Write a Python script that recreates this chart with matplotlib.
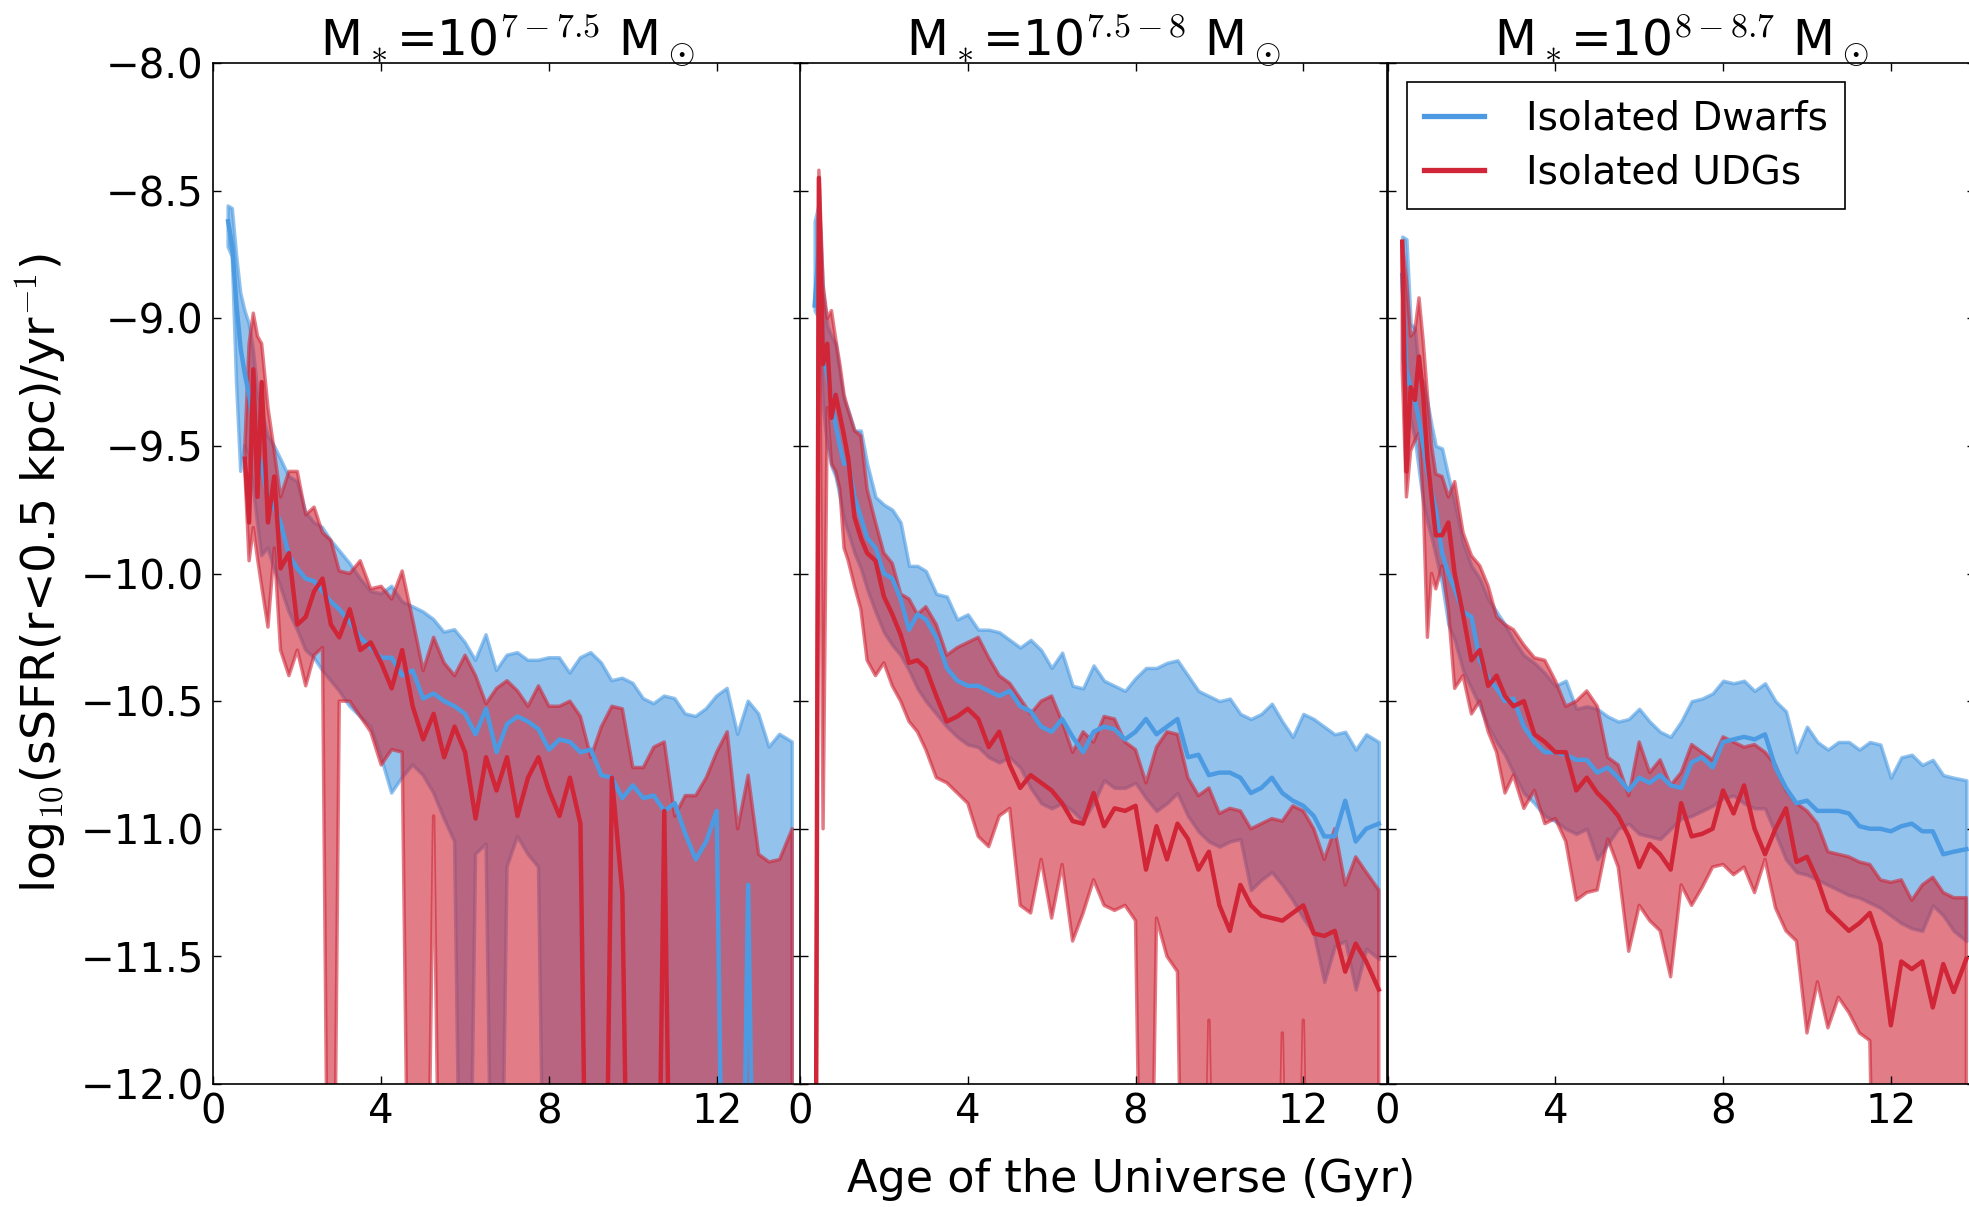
import numpy as np
import matplotlib
matplotlib.use("Agg")
import matplotlib.pyplot as plt

plt.rcParams["font.family"] = "DejaVu Sans"
plt.rcParams["mathtext.fontset"] = "cm"

nan = np.nan
LOW = -14.0  # zero star formation: drops off the bottom of the axes

# age of the universe (Gyr)
t = [0.35, 0.45, 0.55, 0.65, 0.75, 0.85, 0.95, 1.05, 1.15, 1.3,
     1.45, 1.6, 1.8, 2.0, 2.2, 2.4, 2.6, 2.8, 3.0, 3.25,
     3.5, 3.75, 4.0, 4.25, 4.5, 4.75, 5.0, 5.25, 5.5, 5.75,
     6.0, 6.25, 6.5, 6.75, 7.0, 7.25, 7.5, 7.75, 8.0, 8.25,
     8.5, 8.75, 9.0, 9.25, 9.5, 9.75, 10.0, 10.25, 10.5, 10.75,
     11.0, 11.25, 11.5, 11.75, 12.0, 12.25, 12.5, 12.75, 13.0, 13.25,
     13.5, 13.8]

titles = [r"M$_*$=10$^{7-7.5}$ M$_\odot$",
          r"M$_*$=10$^{7.5-8}$ M$_\odot$",
          r"M$_*$=10$^{8-8.7}$ M$_\odot$"]

# ---- panel 1: 10^7 - 10^7.5 ----
dw1_hi = [-8.56, -8.57, -8.75, -8.90, -8.97, -9.02, -9.12, -9.28, -9.36, -9.46,
          -9.50, -9.55, -9.62, -9.64, -9.76, -9.80, -9.82, -9.87, -9.91, -9.96,
          -10.02, -10.07, -10.08, -10.05, -10.11, -10.13, -10.15, -10.18, -10.23, -10.22,
          -10.27, -10.34, -10.24, -10.38, -10.32, -10.31, -10.34, -10.34, -10.33, -10.33,
          -10.39, -10.33, -10.31, -10.35, -10.42, -10.41, -10.43, -10.49, -10.51, -10.48,
          -10.49, -10.55, -10.56, -10.53, -10.48, -10.45, -10.63, -10.50, -10.55, -10.68,
          -10.63, -10.66]
dw1_md = [-8.62, -8.72, -8.95, -9.12, -9.22, -9.30, -9.40, -9.52, -9.58, -9.70,
          -9.74, -9.80, -9.93, -9.98, -10.02, -10.03, -10.07, -10.11, -10.14, -10.19,
          -10.25, -10.29, -10.33, -10.33, -10.40, -10.38, -10.49, -10.47, -10.50, -10.52,
          -10.55, -10.63, -10.53, -10.70, -10.59, -10.56, -10.58, -10.61, -10.69, -10.65,
          -10.66, -10.70, -10.69, -10.79, -10.80, -10.88, -10.83, -10.88, -10.87, -10.93,
          -10.90, -11.02, -11.12, -11.05, -10.93, LOW, LOW, -11.22, LOW, LOW,
          LOW, LOW]
dw1_lo = [-8.72, -8.76, -9.25, -9.60, -9.50, -9.55, -9.66, -9.80, -9.93, -9.90,
          -9.98, -10.05, -10.15, -10.22, -10.30, -10.33, -10.38, -10.42, -10.46, -10.52,
          -10.56, -10.60, -10.72, -10.86, -10.80, -10.75, -10.79, -10.86, -10.96, -11.05,
          LOW, -11.10, -11.06, LOW, -11.15, -11.03, -11.10, -11.15, LOW, LOW,
          LOW, LOW, LOW, LOW, LOW, LOW, LOW, LOW, LOW, LOW,
          LOW, LOW, LOW, LOW, LOW, LOW, LOW, LOW, LOW, LOW,
          LOW, LOW]
udg1_hi = [nan, nan, nan, nan, -9.50, -9.10, -8.98, -9.07, -9.10, -9.35,
           -9.52, -9.70, -9.60, -9.60, -9.77, -9.74, -9.84, -9.87, -9.99, -10.00,
           -9.95, -10.06, -10.05, -10.10, -9.99, -10.18, -10.38, -10.25, -10.35, -10.40,
           -10.32, -10.40, -10.51, -10.45, -10.42, -10.46, -10.52, -10.44, -10.52, -10.52,
           -10.50, -10.56, -10.72, -10.60, -10.52, -10.53, -10.76, -10.76, -10.68, -10.66,
           -10.95, -10.87, -10.87, -10.80, -10.70, -10.62, -11.00, -10.79, -11.10, -11.13,
           -11.12, -11.00]
udg1_md = [nan, nan, nan, nan, -9.55, -9.80, -9.20, -9.70, -9.25, -9.80,
           -9.62, -9.98, -9.92, -10.20, -10.17, -10.07, -10.02, -10.20, -10.25, -10.14,
           -10.30, -10.27, -10.35, -10.45, -10.30, -10.52, -10.65, -10.55, -10.72, -10.60,
           -10.70, -10.96, -10.72, -10.85, -10.72, -10.95, -10.80, -10.72, -10.85, -10.95,
           -10.80, -10.98, LOW, LOW, -10.80, -11.25, LOW, LOW, LOW, -10.93,
           LOW, LOW, LOW, LOW, LOW, LOW, LOW, LOW, LOW, LOW,
           LOW, LOW]
udg1_lo = [nan, nan, nan, nan, -9.60, -9.95, -9.82, -9.94, -10.05, -10.21,
           -9.90, -10.30, -10.40, -10.30, -10.44, -10.32, -10.29, LOW, -10.50, -10.50,
           -10.56, -10.62, -10.75, -10.69, -10.70, LOW, LOW, -10.95, LOW, LOW,
           LOW, LOW, LOW, LOW, LOW, LOW, LOW, LOW, LOW, LOW,
           LOW, LOW, LOW, LOW, LOW, LOW, LOW, LOW, LOW, LOW,
           LOW, LOW, LOW, LOW, LOW, LOW, LOW, LOW, LOW, LOW,
           LOW, LOW]

# ---- panel 2: 10^7.5 - 10^8 ----
dw2_hi = [-8.62, -8.55, -8.90, -9.03, -9.07, -9.10, -9.22, -9.32, -9.36, -9.44,
          -9.44, -9.57, -9.70, -9.73, -9.75, -9.80, -9.97, -9.97, -9.99, -10.08,
          -10.09, -10.18, -10.16, -10.22, -10.22, -10.23, -10.26, -10.29, -10.26, -10.30,
          -10.37, -10.31, -10.44, -10.45, -10.36, -10.42, -10.44, -10.46, -10.41, -10.37,
          -10.37, -10.35, -10.34, -10.40, -10.46, -10.48, -10.50, -10.49, -10.55, -10.57,
          -10.55, -10.51, -10.58, -10.64, -10.55, -10.57, -10.60, -10.63, -10.62, -10.69,
          -10.63, -10.66]
dw2_md = [-8.95, -8.72, -9.12, -9.22, -9.32, -9.42, -9.50, -9.57, -9.57, -9.70,
          -9.78, -9.86, -9.90, -10.00, -10.02, -10.10, -10.22, -10.16, -10.18, -10.25,
          -10.37, -10.42, -10.44, -10.44, -10.46, -10.48, -10.46, -10.52, -10.54, -10.60,
          -10.62, -10.57, -10.64, -10.70, -10.62, -10.60, -10.61, -10.65, -10.62, -10.57,
          -10.63, -10.60, -10.57, -10.72, -10.71, -10.79, -10.78, -10.78, -10.80, -10.86,
          -10.84, -10.80, -10.86, -10.89, -10.91, -10.95, -11.03, -11.03, -10.89, -11.05,
          -11.00, -10.98]
dw2_lo = [-8.97, -9.00, -9.35, -9.50, -9.58, -9.62, -9.70, -9.79, -9.84, -9.92,
          -9.98, -10.06, -10.15, -10.23, -10.28, -10.32, -10.38, -10.45, -10.50, -10.55,
          -10.60, -10.64, -10.67, -10.68, -10.72, -10.74, -10.72, -10.76, -10.84, -10.90,
          -10.92, -10.90, -10.93, -10.97, -10.90, -10.81, -10.84, -10.84, -10.82, -10.88,
          -10.93, -10.90, -10.86, -10.95, -11.01, -11.05, -11.07, -11.05, -11.04, -11.24,
          -11.20, -11.17, -11.22, -11.28, -11.35, -11.41, -11.60, -11.46, -11.44, -11.63,
          -11.47, -11.51]
udg2_hi = [LOW, -8.42, -8.87, -9.00, -8.97, -9.08, -9.18, -9.30, -9.36, -9.44,
           -9.46, -9.67, -9.80, -9.92, -9.96, -10.08, -10.10, -10.16, -10.13, -10.20,
           -10.32, -10.29, -10.27, -10.25, -10.33, -10.40, -10.43, -10.49, -10.55, -10.50,
           -10.48, -10.58, -10.70, -10.62, -10.66, -10.56, -10.57, -10.66, -10.69, -10.82,
           -10.68, -10.62, -10.63, -10.80, -10.87, -10.84, -10.94, -10.92, -10.93, -11.00,
           -10.98, -10.96, -10.97, -10.91, -10.93, -11.00, -11.12, -11.00, -11.22, -11.11,
           -11.17, -11.24]
udg2_md = [LOW, -8.45, -9.18, -9.10, -9.39, -9.30, -9.38, -9.46, -9.55, -9.78,
           -9.86, -9.92, -9.95, -10.09, -10.16, -10.24, -10.35, -10.34, -10.37, -10.48,
           -10.58, -10.56, -10.53, -10.57, -10.68, -10.62, -10.75, -10.84, -10.79, -10.82,
           -10.85, -10.90, -10.97, -10.98, -10.86, -10.99, -10.92, -10.93, -10.91, -11.16,
           -10.99, -11.12, -10.98, -11.04, -11.16, -11.09, -11.30, -11.40, -11.22, -11.30,
           -11.34, -11.35, -11.36, -11.33, -11.30, -11.41, -11.42, -11.40, -11.56, -11.45,
           -11.52, -11.63]
udg2_lo = [LOW, -8.55, -11.00, -9.35, -9.57, -9.60, -9.67, -9.90, -9.95, -10.05,
           -10.14, -10.34, -10.40, -10.35, -10.44, -10.50, -10.58, -10.62, -10.69, -10.80,
           -10.82, -10.86, -10.90, -11.03, -11.07, -10.95, -10.92, -11.30, -11.33, -11.12,
           -11.35, -11.14, -11.44, -11.33, -11.20, -11.30, -11.32, -11.30, -11.36, LOW,
           -11.35, -11.50, -11.56, LOW, LOW, -11.75, LOW, LOW, LOW, LOW,
           LOW, LOW, -11.80, LOW, -11.75, LOW, LOW, LOW, LOW, LOW,
           LOW, LOW]

# ---- panel 3: 10^8 - 10^8.7 ----
dw3_hi = [-8.68, -8.69, -9.02, -9.04, -9.22, -9.25, -9.33, -9.42, -9.50, -9.51,
          -9.62, -9.72, -9.88, -9.97, -10.02, -10.10, -10.15, -10.20, -10.26, -10.32,
          -10.35, -10.39, -10.44, -10.42, -10.53, -10.52, -10.53, -10.56, -10.58, -10.57,
          -10.53, -10.58, -10.62, -10.64, -10.58, -10.50, -10.49, -10.47, -10.42, -10.43,
          -10.42, -10.46, -10.43, -10.50, -10.54, -10.70, -10.60, -10.66, -10.69, -10.66,
          -10.66, -10.69, -10.66, -10.67, -10.80, -10.72, -10.71, -10.75, -10.73, -10.79,
          -10.80, -10.81]
dw3_md = [-8.83, -9.20, -9.28, -9.32, -9.40, -9.50, -9.60, -9.68, -9.75, -9.92,
          -10.00, -10.06, -10.15, -10.17, -10.34, -10.41, -10.45, -10.50, -10.49, -10.60,
          -10.66, -10.70, -10.70, -10.71, -10.73, -10.73, -10.78, -10.76, -10.80, -10.85,
          -10.80, -10.82, -10.79, -10.83, -10.84, -10.74, -10.72, -10.76, -10.66, -10.65,
          -10.64, -10.65, -10.63, -10.76, -10.84, -10.90, -10.89, -10.93, -10.93, -10.93,
          -10.94, -10.99, -11.00, -11.00, -11.01, -10.99, -10.98, -11.01, -11.01, -11.10,
          -11.09, -11.08]
dw3_lo = [-9.15, -9.30, -9.40, -9.47, -9.60, -9.72, -9.80, -9.86, -9.93, -10.04,
          -10.20, -10.26, -10.38, -10.45, -10.52, -10.60, -10.66, -10.71, -10.78, -10.86,
          -10.90, -10.95, -10.97, -11.00, -11.02, -11.00, -11.12, -11.06, -11.00, -10.98,
          -11.02, -11.03, -11.04, -11.00, -10.96, -10.95, -10.93, -10.91, -10.88, -10.87,
          -10.90, -10.92, -10.92, -11.02, -11.12, -11.17, -11.18, -11.20, -11.22, -11.24,
          -11.26, -11.27, -11.29, -11.31, -11.34, -11.37, -11.39, -11.40, -11.30, -11.34,
          -11.40, -11.44]
udg3_hi = [-8.70, -8.85, -9.07, -9.05, -8.92, -9.09, -9.30, -9.50, -9.61, -9.62,
           -9.70, -9.64, -9.84, -9.93, -9.97, -10.05, -10.17, -10.20, -10.22, -10.28,
           -10.33, -10.34, -10.42, -10.52, -10.50, -10.46, -10.52, -10.72, -10.75, -10.87,
           -10.66, -10.78, -10.73, -10.83, -10.78, -10.67, -10.70, -10.73, -10.64, -10.66,
           -10.68, -10.67, -10.70, -10.75, -10.85, -10.90, -10.93, -10.98, -11.09, -11.10,
           -11.11, -11.13, -11.14, -11.20, -11.21, -11.20, -11.28, -11.22, -11.19, -11.25,
           -11.27, -11.27]
udg3_md = [-8.70, -9.60, -9.27, -9.32, -9.15, -9.30, -9.55, -9.70, -9.85, -9.85,
           -9.80, -10.00, -10.16, -10.34, -10.30, -10.44, -10.40, -10.48, -10.52, -10.50,
           -10.63, -10.66, -10.70, -10.70, -10.85, -10.80, -10.86, -10.90, -10.95, -11.03,
           -11.15, -11.06, -11.10, -11.16, -10.90, -11.03, -11.02, -11.00, -10.85, -10.94,
           -10.83, -11.00, -11.10, -11.00, -10.92, -11.13, -11.11, -11.20, -11.32, -11.36,
           -11.40, -11.37, -11.33, -11.45, -11.77, -11.52, -11.55, -11.52, -11.70, -11.53,
           -11.64, -11.51]
udg3_lo = [-9.20, -9.70, -9.52, -9.48, -9.45, -9.71, -10.25, -10.00, -10.06, -9.97,
           -10.14, -10.45, -10.40, -10.55, -10.50, -10.62, -10.70, -10.86, -10.79, -10.92,
           -10.85, -10.98, -10.96, -11.05, -11.28, -11.25, -11.24, -11.04, -11.15, -11.48,
           -11.30, -11.36, -11.40, -11.58, -11.22, -11.30, -11.23, -11.15, -11.14, -11.18,
           -11.15, -11.25, -11.12, -11.31, -11.40, -11.44, -11.80, -11.60, -11.78, -11.66,
           -11.72, -11.80, -11.83, LOW, LOW, LOW, LOW, LOW, LOW, LOW,
           LOW, LOW]

BLUE = "#4c9be2"
RED = "#d02638"

panels = [
    (dw1_lo, dw1_md, dw1_hi, udg1_lo, udg1_md, udg1_hi),
    (dw2_lo, dw2_md, dw2_hi, udg2_lo, udg2_md, udg2_hi),
    (dw3_lo, dw3_md, dw3_hi, udg3_lo, udg3_md, udg3_hi),
]

fig = plt.figure(figsize=(19.69, 12.07), dpi=100)
lefts = [0.1084, 0.4063, 0.7047]
axes = []
for i, (dlo, dmd, dhi, ulo, umd, uhi) in enumerate(panels):
    ax = fig.add_axes([lefts[i], 0.1019, 0.2982, 0.8459],
                      sharey=axes[0] if axes else None)
    axes.append(ax)
    ax.fill_between(t, dlo, dhi, color=BLUE, alpha=0.6, lw=2.5)
    ax.fill_between(t, ulo, uhi, color=RED, alpha=0.6, lw=2.5)
    ax.plot(t, dmd, color=BLUE, lw=3.2, label="Isolated Dwarfs")
    ax.plot(t, umd, color=RED, lw=3.2, label="Isolated UDGs")

    ax.set_xlim(0, 14)
    ax.set_ylim(-12, -8)
    ax.set_xticks([0, 4, 8, 12])
    ax.set_yticks([-12.0, -11.5, -11.0, -10.5, -10.0, -9.5, -9.0, -8.5, -8.0])
    ax.tick_params(direction="in", top=True, right=True, length=6, width=1,
                   labelsize=29)
    ax.tick_params(axis="x", pad=6)
    ax.tick_params(axis="y", pad=7)
    if i > 0:
        ax.tick_params(labelleft=False)
    for sp in ax.spines.values():
        sp.set_linewidth(1.2)
    ax.set_title(titles[i], fontsize=35, pad=5)

leg = axes[2].legend(loc="upper left", fontsize=28, handlelength=1.52,
                     handletextpad=1.08, borderpad=0.45, labelspacing=0.4,
                     fancybox=False, framealpha=1)
leg.get_frame().set_edgecolor("black")
leg.get_frame().set_linewidth(1.2)
for h in leg.get_lines():
    h.set_linewidth(3.8)

fig.text(0.021, 0.525, r"log$_{10}$(sSFR(r<0.5 kpc)/yr$^{-1}$)", rotation=90,
         ha="center", va="center", fontsize=34)
fig.text(0.5745, 0.0224, "Age of the Universe (Gyr)", ha="center", va="center",
         fontsize=32)

fig.savefig("out.png", dpi=100)
